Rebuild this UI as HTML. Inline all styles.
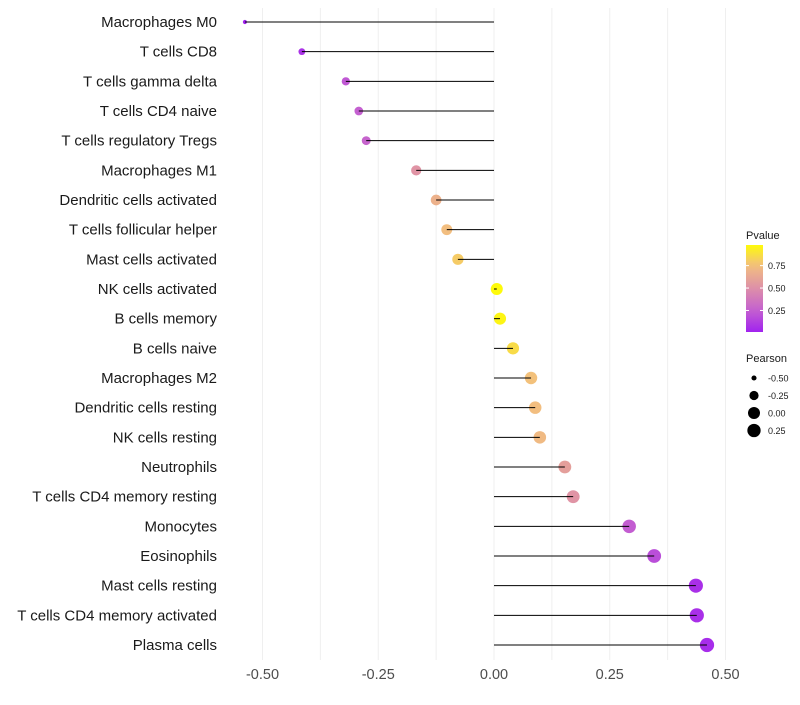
<!DOCTYPE html>
<html><head><meta charset="utf-8"><style>
body{margin:0;background:#fff;font-family:"Liberation Sans",sans-serif}
</style></head><body>
<svg id="chart" width="800" height="700" xmlns="http://www.w3.org/2000/svg" font-family="Liberation Sans, sans-serif"></svg>
<script>
const categories=["Macrophages M0","T cells CD8","T cells gamma delta","T cells CD4 naive","T cells regulatory  Tregs ","Macrophages M1","Dendritic cells activated","T cells follicular helper","Mast cells activated","NK cells activated","B cells memory","B cells naive","Macrophages M2","Dendritic cells resting","NK cells resting","Neutrophils","T cells CD4 memory resting","Monocytes","Eosinophils","Mast cells resting","T cells CD4 memory activated","Plasma cells"];
const pearson=[-0.538,-0.415,-0.32,-0.292,-0.276,-0.168,-0.125,-0.102,-0.078,0.006,0.013,0.041,0.080,0.089,0.099,0.153,0.171,0.292,0.346,0.436,0.438,0.460];
const pvalue=[0.01,0.07,0.22,0.25,0.27,0.52,0.68,0.75,0.8,0.98,0.96,0.86,0.76,0.75,0.73,0.58,0.52,0.24,0.18,0.06,0.06,0.05];
const xTicks=[-0.5,-0.25,0,0.25,0.5];
const xTickLabels=["-0.50","-0.25","0.00","0.25","0.50"];
const pTicks=[0.25,0.5,0.75];
const sizeTicks=[-0.5,-0.25,0,0.25];
const sizeTickLabels=["-0.50","-0.25","0.00","0.25"];

const NS="http://www.w3.org/2000/svg";
const svg=document.getElementById('chart');
function X(v){return 494+v*463;}
function Y(i){return 22+i*(623/21);}
function R(v){const a2=v<0?36+v*59:36+v*33;return Math.sqrt(Math.max(3,a2));}
const stops=[[0,[160,32,240]],[0.25,[196,96,208]],[0.5,[222,144,168]],[0.75,[242,190,128]],[1,[255,255,0]]];
function col(p){for(let k=1;k<stops.length;k++){if(p<=stops[k][0]){const a=stops[k-1],b=stops[k];const t=(p-a[0])/(b[0]-a[0]);return 'rgb('+a[1].map((c,j)=>Math.round(c+(b[1][j]-c)*t)).join(',')+')';}}return 'rgb(255,255,0)';}
function mk(tag,attrs,name,text){const e=document.createElementNS(NS,tag);for(const k in attrs)e.setAttribute(k,attrs[k]);


if(text!==undefined)e.textContent=text;svg.appendChild(e);return e;}
for(let v=-0.5;v<=0.5001;v+=0.125){mk('line',{x1:X(v),x2:X(v),y1:8,y2:660,stroke:'#efefef','stroke-width':1},'grid-line-x');}
xTicks.forEach((v,i)=>{mk('text',{x:X(v),y:679,'text-anchor':'middle','font-size':14.5,fill:'#4d4d4d'},'x-tick-label',xTickLabels[i]);});
categories.forEach((c,i)=>{
 mk('text',{x:217,y:Y(i)+5,'text-anchor':'end','font-size':15,fill:'#1a1a1a'},'y-tick-label',c);
 mk('circle',{cx:X(pearson[i]),cy:Y(i),r:R(pearson[i]),fill:col(pvalue[i])},'point');
 mk('line',{x1:X(0),x2:X(pearson[i]),y1:Y(i),y2:Y(i),stroke:'#000','stroke-width':1},'stem');
});
mk('text',{x:746,y:239,'font-size':11,fill:'#1a1a1a'},'pvalue-legend-title','Pvalue');
const defs=document.createElementNS(NS,'defs');svg.appendChild(defs);
const g=document.createElementNS(NS,'linearGradient');g.setAttribute('id','pg');g.setAttribute('x1',0);g.setAttribute('y1',1);g.setAttribute('x2',0);g.setAttribute('y2',0);defs.appendChild(g);
for(let k=0;k<=10;k++){const s=document.createElementNS(NS,'stop');s.setAttribute('offset',k/10);s.setAttribute('stop-color',col(0.01+k/10*0.97));g.appendChild(s);}
mk('rect',{x:746,y:245,width:17,height:87,fill:'url(#pg)'},'pvalue-colorbar');
function PY(p){return 332-(p-0.01)/0.97*87;}
pTicks.forEach(p=>{mk('text',{x:768,y:PY(p)+3.5,'font-size':9,fill:'#1a1a1a'},'pvalue-tick-label',p.toFixed(2));
 mk('line',{x1:746,x2:749,y1:PY(p),y2:PY(p),stroke:'#fff'},'pvalue-tick');mk('line',{x1:760,x2:763,y1:PY(p),y2:PY(p),stroke:'#fff'},'pvalue-tick');});
mk('text',{x:746,y:362,'font-size':11,fill:'#1a1a1a'},'pearson-legend-title','Pearson');
sizeTicks.forEach((v,i)=>{const y=378+i*17.5;mk('circle',{cx:754,cy:y,r:R(v),fill:'#000'},'pearson-legend-key');
 mk('text',{x:768,y:y+3.5,'font-size':9,fill:'#1a1a1a'},'pearson-tick-label',sizeTickLabels[i]);});
</script>
</body></html>
